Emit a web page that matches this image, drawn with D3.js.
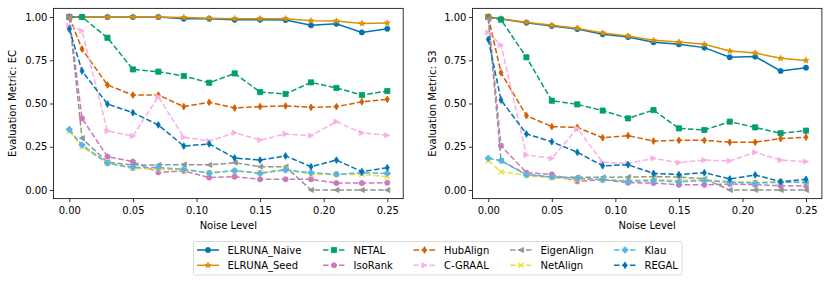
<!DOCTYPE html>
<html>
<head>
<meta charset="utf-8">
<script src="https://cdn.jsdelivr.net/npm/d3@7"></script>
<style>
  body { margin: 0; background: #fff; }
  text { font-family: "DejaVu Sans", sans-serif; fill: #000; }
</style>
</head>
<body>
<div id="chart-area"></div>
<script>
var width = 830;
var height = 284;

var noise = [0, 0.01, 0.03, 0.05, 0.07, 0.09, 0.11, 0.13, 0.15, 0.17, 0.19, 0.21, 0.23, 0.25];
var xTicks = [0, 0.05, 0.10, 0.15, 0.20, 0.25];
var yTicks = [0, 0.25, 0.50, 0.75, 1.00];
var metrics = ["EC", "S3"];

var methods = ["ELRUNA_Naive", "ELRUNA_Seed", "NETAL", "IsoRank", "HubAlign", "C-GRAAL", "EigenAlign", "NetAlign", "Klau", "REGAL"];

// EC values
var naiveEC    = [1.0, 1.0, 1.0, 1.0, 1.0, 0.99, 0.99, 0.984, 0.984, 0.982, 0.952, 0.961, 0.911, 0.932];
var seedEC     = [1.0, 1.0, 1.0, 1.0, 1.0, 0.997, 0.993, 0.99, 0.99, 0.99, 0.978, 0.977, 0.963, 0.965];
var netalEC    = [1.0, 1.0, 0.88, 0.697, 0.684, 0.659, 0.62, 0.674, 0.566, 0.555, 0.622, 0.59, 0.549, 0.572];
var isorankEC  = [1.0, 0.414, 0.193, 0.164, 0.102, 0.11, 0.072, 0.077, 0.062, 0.062, 0.062, 0.04, 0.04, 0.042];
var hubEC      = [1.0, 0.815, 0.607, 0.549, 0.549, 0.482, 0.507, 0.474, 0.482, 0.486, 0.478, 0.482, 0.51, 0.524];
var cgraalEC   = [0.95, 0.92, 0.341, 0.312, 0.54, 0.305, 0.283, 0.331, 0.289, 0.324, 0.314, 0.395, 0.33, 0.316];
var eigenEC    = [1.0, 0.299, 0.16, 0.145, 0.145, 0.147, 0.145, 0.158, 0.135, 0.135, 0, 0, 0, 0];
var netalignEC = [0.34, 0.25, 0.155, 0.125, 0.12, 0.115, 0.1, 0.11, 0.1, 0.12, 0.09, 0.09, 0.09, 0.077];
var klauEC     = [0.35, 0.26, 0.155, 0.13, 0.13, 0.12, 0.098, 0.112, 0.096, 0.116, 0.1, 0.091, 0.1, 0.096];
var regalEC    = [0.93, 0.688, 0.497, 0.447, 0.376, 0.254, 0.266, 0.185, 0.173, 0.197, 0.135, 0.173, 0.106, 0.129];

// S3 values
var naiveS3    = [1.0, 0.988, 0.967, 0.948, 0.93, 0.90, 0.884, 0.854, 0.842, 0.823, 0.767, 0.771, 0.688, 0.707];
var seedS3     = [1.0, 0.99, 0.97, 0.952, 0.935, 0.908, 0.89, 0.865, 0.855, 0.842, 0.803, 0.792, 0.761, 0.749];
var netalS3    = [1.0, 0.985, 0.767, 0.516, 0.495, 0.459, 0.414, 0.462, 0.356, 0.347, 0.395, 0.362, 0.328, 0.343];
var isorankS3  = [1.0, 0.256, 0.1, 0.09, 0.05, 0.06, 0.042, 0.04, 0.03, 0.03, 0.035, 0.03, 0.025, 0.025];
var hubS3      = [1.0, 0.678, 0.43, 0.366, 0.362, 0.302, 0.314, 0.283, 0.287, 0.287, 0.276, 0.276, 0.297, 0.305];
var cgraalS3   = [0.91, 0.838, 0.202, 0.183, 0.356, 0.16, 0.154, 0.183, 0.158, 0.173, 0.168, 0.218, 0.173, 0.164];
var eigenS3    = [0.99, 0.17, 0.09, 0.075, 0.073, 0.073, 0.075, 0.077, 0.075, 0.065, 0, 0, 0, 0];
var netalignS3 = [0.17, 0.105, 0.085, 0.07, 0.06, 0.06, 0.055, 0.06, 0.055, 0.06, 0.05, 0.045, 0.05, 0.04];
var klauS3     = [0.183, 0.17, 0.087, 0.075, 0.068, 0.06, 0.05, 0.055, 0.047, 0.055, 0.045, 0.04, 0.045, 0.045];
var regalS3    = [0.871, 0.52, 0.324, 0.279, 0.218, 0.14, 0.146, 0.096, 0.089, 0.1, 0.064, 0.087, 0.048, 0.062];

var seriesEC = [naiveEC, seedEC, netalEC, isorankEC, hubEC, cgraalEC, eigenEC, netalignEC, klauEC, regalEC];
var seriesS3 = [naiveS3, seedS3, netalS3, isorankS3, hubS3, cgraalS3, eigenS3, netalignS3, klauS3, regalS3];

// styles
var colors  = ["#0173b2", "#de8f05", "#029e73", "#cc78bc", "#d55e00", "#fbafe4", "#949494", "#ece133", "#56b4e9", "#0173b2"];
var markers = ["o", "*", "s", "o", "d", ">", "<", "x", "P", "d"];
var dashed  = [false, false, true, true, true, true, true, true, true, true];

function markerPath(type, s) {
	var h = s / 2;
	if (type == "o") {
		return d3.symbol(d3.symbolCircle, Math.PI * h * h)();
	}
	if (type == "s") {
		return "M" + (-h) + "," + (-h) + "H" + h + "V" + h + "H" + (-h) + "Z";
	}
	if (type == "*") {
		var p = [];
		for (var i = 0; i < 10; i++) {
			var r = (i % 2 == 0) ? h * 1.05 : h * 0.42;
			var a = -Math.PI / 2 + i * Math.PI / 5;
			p.push([r * Math.cos(a), r * Math.sin(a)]);
		}
		return "M" + p.join("L") + "Z";
	}
	if (type == "d") {
		var dh = h * 1.3, dw = dh * 0.6;
		return "M0," + (-dh) + "L" + dw + ",0L0," + dh + "L" + (-dw) + ",0Z";
	}
	if (type == ">") {
		return "M" + h + ",0L" + (-h) + "," + (-h) + "L" + (-h) + "," + h + "Z";
	}
	if (type == "<") {
		return "M" + (-h) + ",0L" + h + "," + (-h) + "L" + h + "," + h + "Z";
	}
	if (type == "x") {
		return "M" + (-h) + "," + (-h) + "L" + h + "," + h + "M" + (-h) + "," + h + "L" + h + "," + (-h);
	}
	if (type == "P") {
		var t = h * 0.42, e = h * 1.05;
		return "M" + (-t) + "," + (-e) + "H" + t + "V" + (-t) + "H" + e + "V" + t + "H" + t + "V" + e +
			"H" + (-t) + "V" + t + "H" + (-e) + "V" + (-t) + "H" + (-t) + "Z";
	}
}

var svg = d3.select("#chart-area")
	.append("svg")
	.attr("width", width)
	.attr("height", height);

var panels = [
	{ left: 53.4, right: 403.2, labelX: 12.5, data: seriesEC },
	{ left: 472.4, right: 821.9, labelX: 432, data: seriesS3 }
];
var plotTop = 8.35, plotBottom = 198.65;

panels.forEach((p, pi) => {
	var x = d3.scaleLinear().domain([-0.0125, 0.2625]).range([p.left, p.right]);
	var y = d3.scaleLinear().domain([-0.05, 1.05]).range([plotBottom, plotTop]);

	var g = svg.append("g");

	var bottomAxis = d3.axisBottom(x).tickValues(xTicks).tickSize(3.5).tickPadding(4.5)
		.tickFormat(d3.format(".2f"));
	var leftAxis = d3.axisLeft(y).tickValues(yTicks).tickSize(3.5).tickPadding(2.5)
		.tickFormat(d3.format(".2f"));

	var xAxisGroup = g.append("g").attr("transform", "translate(0, " + plotBottom + ")").call(bottomAxis);
	var yAxisGroup = g.append("g").attr("transform", "translate(" + p.left + ", 0)").call(leftAxis);
	[xAxisGroup, yAxisGroup].forEach((ax) => {
		ax.select(".domain").remove();
		ax.selectAll("line").attr("stroke", "#000").attr("stroke-width", 0.8);
		ax.selectAll("text").attr("font-size", "10px").attr("font-family", "DejaVu Sans, sans-serif").style("fill", "#000");
	});

	g.append("text")
		.attr("x", (p.left + p.right) / 2)
		.attr("y", 229)
		.attr("font-size", "10px")
		.attr("text-anchor", "middle")
		.text("Noise Level");

	g.append("text")
		.attr("transform", "translate(" + (p.labelX + 3.6) + ", " + ((plotTop + plotBottom) / 2) + ") rotate(-90)")
		.attr("font-size", "10px")
		.attr("text-anchor", "middle")
		.text("Evaluation Metric: " + metrics[pi]);

	var plot = g.append("g");
	p.data.forEach((vals, si) => {
		var pts = noise.map((n, i) => [x(n), y(vals[i])]);
		plot.append("path")
			.attr("d", d3.line()(pts))
			.attr("fill", "none")
			.attr("stroke", colors[si])
			.attr("stroke-width", 1.5)
			.attr("stroke-dasharray", dashed[si] ? "5.55,2.4" : null);
		var mp = markerPath(markers[si], markers[si] == "*" ? 6 : 5.2);
		plot.selectAll(null).data(pts).enter().append("path")
			.attr("transform", (d) => "translate(" + d[0] + "," + d[1] + ")")
			.attr("d", mp)
			.attr("fill", markers[si] == "x" ? "none" : colors[si])
			.attr("stroke", colors[si])
			.attr("stroke-width", markers[si] == "x" ? 1.3 : 0.8);
	});

	g.append("rect")
		.attr("x", p.left).attr("y", plotTop)
		.attr("width", p.right - p.left).attr("height", plotBottom - plotTop)
		.attr("fill", "none").attr("stroke", "#000").attr("stroke-width", 0.8);
});

// legend, 5 columns x 2 rows
var legend = svg.append("g");
legend.append("rect")
	.attr("x", 193.5).attr("y", 241.5)
	.attr("width", 488.5).attr("height", 33.5)
	.attr("rx", 2).attr("ry", 2)
	.attr("fill", "#fff").attr("stroke", "#d0d0d0").attr("stroke-width", 0.8);

var colX = [197, 323, 413.5, 510, 614];
var rowY = [250, 265.3];
methods.forEach((m, i) => {
	var cx = colX[Math.floor(i / 2)];
	var cy = rowY[i % 2];
	legend.append("line")
		.attr("x1", cx).attr("x2", cx + 22)
		.attr("y1", cy).attr("y2", cy)
		.attr("stroke", colors[i]).attr("stroke-width", 1.5)
		.attr("stroke-dasharray", dashed[i] ? "5.55,2.4" : null);
	legend.append("path")
		.attr("transform", "translate(" + (cx + 11) + "," + cy + ")")
		.attr("d", markerPath(markers[i], markers[i] == "*" ? 6 : 5.2))
		.attr("fill", markers[i] == "x" ? "none" : colors[i])
		.attr("stroke", colors[i])
		.attr("stroke-width", markers[i] == "x" ? 1.3 : 0.8);
	legend.append("text")
		.attr("x", cx + 30.5)
		.attr("y", cy + 3.6)
		.attr("font-size", "10px")
		.text(m);
});
</script>
</body>
</html>
